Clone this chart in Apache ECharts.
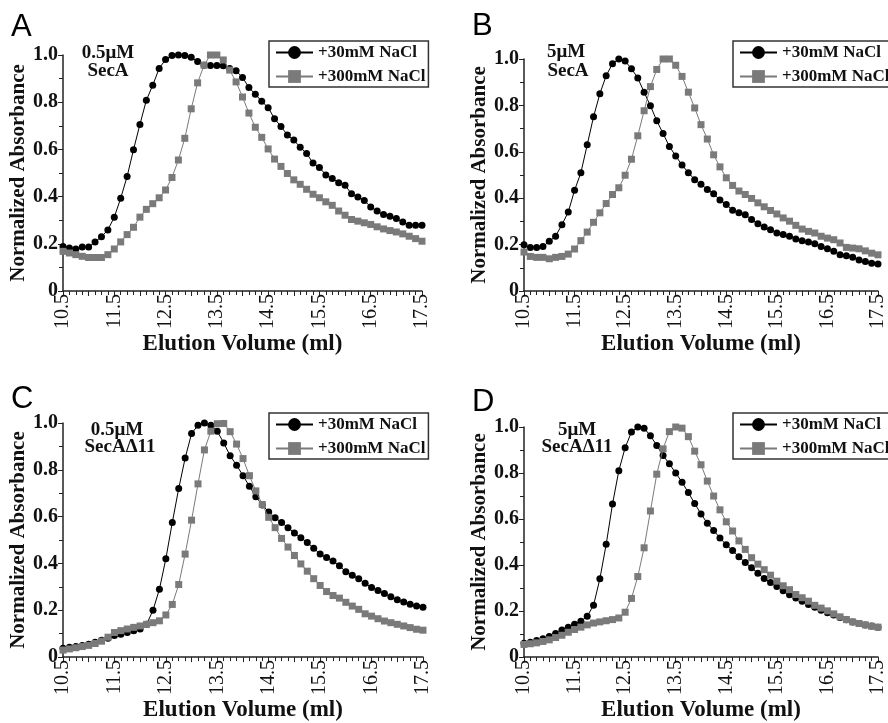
<!DOCTYPE html>
<html><head><meta charset="utf-8">
<script src="https://cdn.jsdelivr.net/npm/echarts@6/dist/echarts.min.js"></script>
<style>html,body{margin:0;padding:0;background:#fff}#c{width:888px;height:723px}</style>
</head><body><div id="c"></div>
<script>
// ---------- data ----------
const volume = [10.5,10.625,10.75,10.875,11,11.125,11.25,11.375,11.5,11.625,11.75,11.875,12,12.125,12.25,12.375,12.5,12.625,12.75,12.875,13,13.125,13.25,13.375,13.5,13.625,13.75,13.875,14,14.125,14.25,14.375,14.5,14.625,14.75,14.875,15,15.125,15.25,15.375,15.5,15.625,15.75,15.875,16,16.125,16.25,16.375,16.5,16.625,16.75,16.875,17,17.125,17.25,17.375,17.5];
const xTickLabels = ['10.5','11.5','12.5','13.5','14.5','15.5','16.5','17.5'];
const yTickLabels = ['0','0.2','0.4','0.6','0.8','1.0'];
const seriesNames = ['+30mM NaCl','+300mM NaCl'];
const panelLetters = ['A','B','C','D'];
const concLabels = ['0.5\u03bcM','5\u03bcM','0.5\u03bcM','5\u03bcM'];
const proteinLabels = ['SecA','SecA','SecA\u039411','SecA\u039411'];

// Panel A: 0.5 uM SecA
const a30 = [0.189,0.182,0.178,0.186,0.186,0.208,0.230,0.259,0.313,0.393,
 0.485,0.599,0.706,0.808,0.872,0.943,0.981,0.998,1.0,0.998,
 0.99,0.972,0.957,0.955,0.955,0.954,0.943,0.933,0.905,0.862,
 0.834,0.804,0.777,0.73,0.697,0.661,0.640,0.609,0.583,0.542,
 0.523,0.492,0.477,0.459,0.448,0.412,0.398,0.384,0.356,0.339,
 0.324,0.317,0.307,0.292,0.279,0.279,0.279];
const a300 = [0.168,0.161,0.154,0.147,0.142,0.142,0.142,0.154,0.178,0.208,
 0.239,0.270,0.313,0.346,0.370,0.395,0.428,0.481,0.555,0.647,
 0.772,0.882,0.957,1.0,1.0,0.979,0.936,0.886,0.822,0.754,
 0.694,0.651,0.602,0.559,0.528,0.498,0.471,0.452,0.431,0.41,
 0.395,0.378,0.363,0.339,0.321,0.303,0.296,0.289,0.282,0.272,
 0.263,0.256,0.250,0.242,0.232,0.222,0.211];
// Panel B: 5 uM SecA
const b30 = [0.199,0.188,0.188,0.192,0.214,0.236,0.286,0.340,0.434,0.510,
 0.630,0.751,0.850,0.928,0.980,1.0,0.991,0.958,0.918,0.857,
 0.798,0.734,0.679,0.623,0.582,0.543,0.510,0.480,0.460,0.438,
 0.419,0.392,0.373,0.348,0.337,0.329,0.308,0.290,0.276,0.264,
 0.250,0.243,0.236,0.224,0.217,0.211,0.204,0.192,0.182,0.171,
 0.156,0.152,0.146,0.134,0.127,0.120,0.116];
const b300 = [0.168,0.149,0.145,0.145,0.139,0.145,0.149,0.159,0.181,0.217,
 0.254,0.296,0.337,0.377,0.416,0.445,0.499,0.568,0.669,0.777,
 0.881,0.955,1.0,1.0,0.973,0.925,0.857,0.789,0.717,0.655,
 0.587,0.535,0.488,0.455,0.431,0.416,0.399,0.380,0.363,0.347,
 0.332,0.315,0.301,0.283,0.267,0.257,0.250,0.236,0.228,0.221,
 0.207,0.188,0.185,0.182,0.173,0.163,0.156];
// Panel C: 0.5 uM SecA-delta11
const c30 = [0.038,0.042,0.045,0.05,0.055,0.063,0.072,0.08,0.092,0.098,
 0.105,0.113,0.12,0.14,0.2,0.29,0.42,0.575,0.72,0.85,
 0.955,0.99,1.0,0.99,0.965,0.915,0.86,0.82,0.775,0.73,
 0.685,0.65,0.62,0.595,0.575,0.553,0.53,0.51,0.49,0.465,
 0.44,0.425,0.41,0.39,0.365,0.35,0.335,0.315,0.297,0.285,
 0.272,0.258,0.245,0.235,0.226,0.218,0.213];
const c300 = [0.03,0.035,0.04,0.045,0.05,0.058,0.068,0.085,0.105,0.113,
 0.12,0.127,0.133,0.14,0.147,0.155,0.18,0.225,0.31,0.44,
 0.585,0.74,0.885,0.965,0.997,0.998,0.963,0.91,0.848,0.775,
 0.71,0.652,0.597,0.553,0.507,0.47,0.434,0.398,0.367,0.335,
 0.306,0.28,0.263,0.252,0.234,0.218,0.204,0.185,0.175,0.164,
 0.154,0.147,0.14,0.133,0.126,0.119,0.115];
// Panel D: 5 uM SecA-delta11
const d30 = [0.06,0.065,0.072,0.08,0.09,0.103,0.118,0.13,0.143,0.156,
 0.178,0.225,0.34,0.49,0.665,0.81,0.91,0.978,1.0,0.995,
 0.962,0.92,0.876,0.84,0.8,0.76,0.715,0.668,0.622,0.582,
 0.55,0.518,0.488,0.463,0.436,0.411,0.388,0.364,0.342,0.324,
 0.307,0.288,0.271,0.257,0.243,0.229,0.217,0.204,0.193,0.183,
 0.172,0.162,0.153,0.146,0.14,0.135,0.13];
const d300 = [0.055,0.058,0.062,0.068,0.075,0.085,0.095,0.108,0.12,0.13,
 0.14,0.148,0.153,0.158,0.163,0.17,0.195,0.255,0.35,0.475,
 0.635,0.795,0.905,0.98,1.0,0.995,0.958,0.895,0.836,0.765,
 0.7,0.64,0.588,0.548,0.505,0.468,0.432,0.404,0.38,0.356,
 0.33,0.31,0.293,0.272,0.258,0.243,0.225,0.213,0.201,0.188,
 0.175,0.163,0.153,0.146,0.14,0.134,0.13];

const low = [a30, b30, c30, d30];
const high = [a300, b300, c300, d300];

// ---------- layout / style ----------
const SERIF = "'Liberation Serif','Times New Roman',serif";
const SANS = "'Liberation Sans',Arial,sans-serif";
const INK = '#111';
const layout = [
  {grid:{left:63,top:55,width:359,height:236}, legend:{left:269,top:41}, letter:[11,27.5], conc:[108,53.5], prot:[108,71]},
  {grid:{left:524,top:59,width:362,height:232}, legend:{left:733,top:41}, letter:[472,26], conc:[566,52], prot:[568,71]},
  {grid:{left:63,top:423,width:360,height:238}, legend:{left:269,top:413}, letter:[11,399], conc:[117,430], prot:[120,447]},
  {grid:{left:524,top:427,width:362,height:235}, legend:{left:733,top:413}, letter:[472,402], conc:[577,430], prot:[577,447]}
];

const grids = [], xAxes = [], yAxes = [], series = [], legends = [], graphics = [];
layout.forEach((L, k) => {
  grids.push(Object.assign({containLabel:false}, L.grid));
  xAxes.push({
    type:'value', gridIndex:k, min:10.5, max:17.5, interval:0.5,
    axisLine:{show:true, onZero:false, lineStyle:{color:'#222', width:1.5}},
    axisTick:{show:true, inside:false, length:5, lineStyle:{color:'#222', width:1}},
    minorTick:{show:true, splitNumber:4, length:4, lineStyle:{color:'#222', width:1}},
    splitLine:{show:false}, minorSplitLine:{show:false},
    axisLabel:{rotate:90, margin:3, fontFamily:SERIF, fontSize:20, color:INK, showMinLabel:true, showMaxLabel:true,
      formatter: v => { const s = Number(v).toFixed(1); return xTickLabels.indexOf(s) >= 0 ? s : ''; }},
    name:'Elution Volume (ml)', nameLocation:'middle', nameGap:39,
    nameTextStyle:{fontFamily:SERIF, fontWeight:'bold', fontSize:23, color:INK}
  });
  yAxes.push({
    type:'value', gridIndex:k, min:0, max:1, interval:0.2,
    axisLine:{show:true, onZero:false, lineStyle:{color:'#222', width:1.5}},
    axisTick:{show:true, inside:false, length:5, lineStyle:{color:'#222', width:1}},
    minorTick:{show:true, splitNumber:2, length:4, lineStyle:{color:'#222', width:1}},
    splitLine:{show:false}, minorSplitLine:{show:false},
    axisLabel:{margin:5, fontFamily:SERIF, fontWeight:'bold', fontSize:20, color:INK,
      formatter: v => yTickLabels[Math.round(v / 0.2)]},
    name:'Normalized Absorbance', nameLocation:'middle', nameRotate:90, nameGap:28,
    nameTextStyle:{fontFamily:SERIF, fontWeight:'bold', fontSize:21, color:INK}
  });
  series.push({
    type:'line', name:seriesNames[0], xAxisIndex:k, yAxisIndex:k,
    data: volume.map((v, i) => [v, low[k][i]]),
    symbol:'circle', symbolSize:7, showSymbol:true, clip:false,
    lineStyle:{color:'#000', width:1}, itemStyle:{color:'#000'}, z:2
  });
  series.push({
    type:'line', name:seriesNames[1], xAxisIndex:k, yAxisIndex:k,
    data: volume.map((v, i) => [v, high[k][i]]),
    symbol:'rect', symbolSize:7, showSymbol:true, clip:false,
    lineStyle:{color:'#7a7a7a', width:1}, itemStyle:{color:'#7a7a7a'}, z:3
  });
  legends.push({
    data: seriesNames, orient:'vertical', left:L.legend.left, top:L.legend.top,
    itemWidth:37, itemHeight:16, itemGap:7, padding:[3,3,2,6],
    borderColor:'#333', borderWidth:1.5, selectedMode:false,
    textStyle:{fontFamily:SERIF, fontWeight:'bold', fontSize:17, color:INK}
  });
  graphics.push({type:'text', x:L.letter[0], y:L.letter[1],
    style:{text:panelLetters[k], font:'31px ' + SANS, fill:'#000', textAlign:'left', textVerticalAlign:'middle', align:'left', verticalAlign:'middle'}});
  graphics.push({type:'text', x:L.conc[0], y:L.conc[1],
    style:{text:concLabels[k], font:'bold 19px ' + SERIF, fill:INK, textAlign:'center', textVerticalAlign:'middle', align:'center', verticalAlign:'middle'}});
  graphics.push({type:'text', x:L.prot[0], y:L.prot[1],
    style:{text:proteinLabels[k], font:'bold 19px ' + SERIF, fill:INK, textAlign:'center', textVerticalAlign:'middle', align:'center', verticalAlign:'middle'}});
});

const chart = echarts.init(document.getElementById('c'), null, {renderer:'canvas'});
chart.setOption({
  backgroundColor:'#fff', animation:false,
  grid:grids, xAxis:xAxes, yAxis:yAxes, series:series, legend:legends,
  graphic:{elements:graphics}
});
</script></body></html>
